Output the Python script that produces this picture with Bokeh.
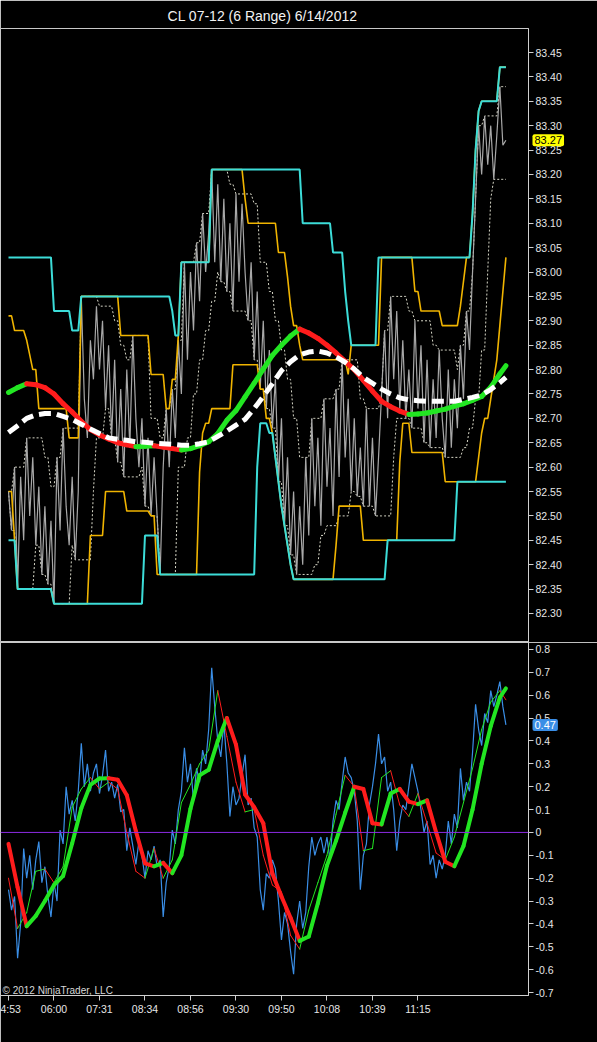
import numpy as np
from bokeh.plotting import figure
from bokeh.layouts import column
from bokeh.models import Range1d, FixedTicker, NumeralTickFormatter, Label, Span
from bokeh.embed import file_html
from bokeh.resources import INLINE

# ---------------- data ----------------
title_text = "CL 07-12 (6 Range)  6/14/2012"
copyright_text = "\u00a9 2012 NinjaTrader, LLC"

time_ticks = [0, 15, 30, 45, 60, 75, 90, 105, 120, 135]
time_labels = ["4:53", "06:00", "07:31", "08:34", "08:56", "09:30", "09:50", "10:08", "10:39", "11:15"]

price_ticks = [82.30, 82.35, 82.40, 82.45, 82.50, 82.55, 82.60, 82.65, 82.70, 82.75, 82.80, 82.85,
               82.90, 82.95, 83.00, 83.05, 83.10, 83.15, 83.20, 83.25, 83.30, 83.35, 83.40, 83.45]
osc_ticks = [-0.7, -0.6, -0.5, -0.4, -0.3, -0.2, -0.1, 0, 0.1, 0.2, 0.3, 0.4, 0.5, 0.6, 0.7, 0.8]
osc_tick_labels = ["-0.7", "-0.6", "-0.5", "-0.4", "-0.3", "-0.2", "-0.1", "0", "0.1", "0.2", "0.3",
                   "0.4", "0.5", "0.6", "0.7", "0.8"]

# close of every range bar
close = [82.55, 82.47, 82.60, 82.35, 82.58, 82.45, 82.66, 82.50, 82.62, 82.44,
         82.56, 82.38, 82.52, 82.36, 82.49, 82.32, 82.62, 82.47, 82.68, 82.52,
         82.44, 82.58, 82.41, 82.55, 82.95, 82.74, 82.66, 82.86, 82.78, 82.93,
         82.80, 82.90, 82.72, 82.85, 82.66, 82.82, 82.61, 82.76, 82.58, 82.80,
         82.64, 82.87, 82.70, 82.60, 82.70, 82.52, 82.66, 82.50, 82.62, 82.50,
         82.38, 82.60, 82.72, 82.60, 82.76, 82.66, 82.86, 82.75, 83.02, 82.82,
         83.00, 82.88, 83.06, 82.94, 83.12, 83.00, 83.08, 83.21, 83.02, 83.18,
         82.98, 83.15, 82.96, 83.10, 82.92, 83.16, 82.98, 83.14, 83.00, 82.90,
         83.02, 82.82, 82.96, 82.76, 82.90, 82.72, 82.84, 82.68, 82.78, 82.57,
         82.70, 82.48, 82.62, 82.42, 82.55, 82.38, 82.52, 82.40, 82.62, 82.46,
         82.70, 82.52, 82.66, 82.48, 82.74, 82.56, 82.68, 82.50, 82.76, 82.58,
         82.82, 82.62, 82.74, 82.55, 82.70, 82.54, 82.64, 82.52, 82.72, 82.52,
         82.66, 82.50, 82.62, 82.75, 82.88, 82.70, 82.95, 82.78, 82.92, 82.72,
         82.86, 82.70, 82.80, 82.68, 82.90, 82.72, 82.85, 82.65, 82.82, 82.64,
         82.78, 82.66, 82.84, 82.70, 82.62, 82.80, 82.64, 82.78, 82.68, 82.85,
         82.74, 82.92, 82.84, 83.00, 83.15, 83.30, 83.20, 83.32, 83.22, 83.30,
         83.19, 83.28, 83.38, 83.26, 83.27]

# channels as (first bar, level) steps
cyan_upper = [(0, 83.03), (15, 82.92), (21, 82.88), (24, 82.95), (54, 82.92), (55, 82.87), (57, 83.02),
              (67, 83.21), (97, 83.10), (107, 83.04), (111, 82.96), (112, 82.90), (113, 82.85),
              (122, 83.03), (153, 83.12), (154, 83.25), (155, 83.33), (156, 83.35), (162, 83.42)]
cyan_lower = [(0, 82.45), (3, 82.35), (15, 82.32), (45, 82.46), (50, 82.38), (82, 82.60), (83, 82.69),
              (86, 82.67), (88, 82.62), (89, 82.57), (90, 82.52), (91, 82.48), (92, 82.44), (93, 82.40),
              (94, 82.37), (125, 82.45), (148, 82.57)]
orange_upper = [(0, 82.91), (2, 82.88), (6, 82.86), (7, 82.83), (8, 82.80), (10, 82.72), (20, 82.66),
                (24, 82.95), (37, 82.87), (47, 82.79), (52, 82.72), (54, 82.78), (56, 82.87), (57, 83.02),
                (67, 83.21), (78, 83.15), (79, 83.10), (89, 83.04), (92, 82.99), (93, 82.93), (94, 82.89),
                (96, 82.85), (97, 82.82), (112, 82.79), (113, 82.85), (123, 83.03), (134, 82.96),
                (136, 82.92), (143, 82.89), (149, 82.93), (150, 82.98), (151, 83.03), (153, 83.12),
                (154, 83.25), (155, 83.33), (156, 83.35), (162, 83.42)]
orange_lower = [(0, 82.55), (2, 82.45), (3, 82.35), (15, 82.32), (27, 82.46), (32, 82.55), (39, 82.51),
                (47, 82.50), (49, 82.38), (63, 82.59), (64, 82.67), (65, 82.69), (67, 82.72), (74, 82.81),
                (83, 82.76), (85, 82.70), (87, 82.67), (88, 82.62), (89, 82.57), (90, 82.52), (91, 82.48),
                (92, 82.44), (93, 82.40), (94, 82.37), (108, 82.44), (109, 82.52), (117, 82.45),
                (129, 82.61), (130, 82.69), (133, 82.63), (144, 82.57), (155, 82.62), (156, 82.67),
                (157, 82.70), (159, 82.74), (160, 82.78), (161, 82.82), (162, 82.89), (163, 82.96),
                (164, 83.03)]

# smoothed series, one value every third bar (+ last bar)
hma_price = [82.753, 82.763, 82.771, 82.769, 82.763, 82.750, 82.730, 82.713, 82.694, 82.677,
             82.666, 82.658, 82.650, 82.646, 82.642, 82.643, 82.644, 82.641, 82.638, 82.635,
             82.638, 82.644, 82.652, 82.669, 82.696, 82.716, 82.744, 82.772, 82.801, 82.829,
             82.850, 82.869, 82.883, 82.875, 82.864, 82.850, 82.834, 82.817, 82.800, 82.778,
             82.756, 82.735, 82.724, 82.715, 82.708, 82.709, 82.711, 82.715, 82.719, 82.725,
             82.730, 82.737, 82.745, 82.764, 82.791, 82.808]
ma_price = [82.671, 82.685, 82.700, 82.707, 82.710, 82.710, 82.704, 82.698, 82.688, 82.678,
            82.669, 82.660, 82.657, 82.655, 82.652, 82.651, 82.649, 82.648, 82.647, 82.645,
            82.645, 82.648, 82.652, 82.663, 82.674, 82.686, 82.698, 82.720, 82.745, 82.771,
            82.798, 82.816, 82.830, 82.836, 82.838, 82.834, 82.826, 82.815, 82.801, 82.784,
            82.772, 82.760, 82.750, 82.742, 82.738, 82.736, 82.735, 82.735, 82.735, 82.735,
            82.739, 82.743, 82.748, 82.759, 82.773, 82.784]

osc_raw = [-0.25, -0.34, -0.28, -0.55, -0.40, -0.07, -0.20, -0.10, -0.25, -0.12,
           -0.04, -0.22, -0.15, -0.28, -0.37, -0.22, -0.30, 0.01, -0.05, 0.20,
           0.08, 0.14, 0.05, 0.18, 0.39, 0.20, 0.30, 0.18, 0.26, 0.30,
           0.17, 0.25, 0.36, 0.18, 0.22, 0.15, 0.21, 0.09, 0.10, -0.08,
           0.02, -0.06, -0.14, -0.04, -0.10, -0.20, -0.08, -0.12, -0.06, -0.15,
           -0.12, -0.37, -0.22, -0.15, 0.01, -0.05, 0.10, 0.18, 0.37, 0.22,
           0.30, 0.14, 0.28, 0.22, 0.36, 0.30, 0.45, 0.72, 0.55, 0.40,
           0.33, 0.48, 0.30, 0.07, 0.20, 0.12, 0.15, 0.25, 0.34, 0.12,
           0.15, 0.02, -0.02, -0.25, -0.34, -0.18, -0.20, -0.12, -0.16, -0.30,
           -0.47, -0.35, -0.40, -0.52, -0.62, -0.40, -0.30, -0.42, -0.35, -0.15,
           -0.02, -0.10, -0.05, -0.02, -0.09, -0.02, -0.12, 0.05, 0.14, 0.10,
           0.22, 0.33, 0.26, 0.24, 0.18, 0.05, -0.25, -0.10, -0.05, 0.12,
           0.20, 0.30, 0.43, 0.30, 0.33, 0.18, 0.22, 0.10, -0.08, 0.05,
           0.12, 0.10, 0.20, 0.30, 0.24, 0.18, 0.10, 0.00, 0.05, -0.14,
           -0.10, -0.20, -0.12, -0.16, -0.10, 0.05, -0.05, 0.08, 0.02, 0.28,
           0.14, 0.22, 0.18, 0.35, 0.56, 0.45, 0.38, 0.52, 0.48, 0.62,
           0.55, 0.60, 0.66, 0.55, 0.47]
osc_signal = [-0.20, -0.42, -0.35, -0.17, -0.16, -0.22, -0.15, 0.11, 0.19, 0.24,
              0.19, 0.22, 0.19, 0.00, -0.17, -0.20, -0.07, -0.20, -0.12, 0.13,
              0.21, 0.30, 0.36, 0.62, 0.42, 0.22, 0.09, 0.10, -0.10, -0.23,
              -0.26, -0.45, -0.51, -0.34, -0.22, -0.10, 0.08, 0.25, 0.20, -0.08,
              -0.07, 0.24, 0.27, 0.12, 0.07, 0.17, 0.04, -0.09, -0.12, -0.02,
              0.13, 0.28, 0.45, 0.57, 0.62, 0.58]
osc_smooth = [-0.05, -0.24, -0.41, -0.365, -0.30, -0.23, -0.19, -0.047, 0.106, 0.208,
              0.236, 0.237, 0.23, 0.163, 0.005, -0.135, -0.148, -0.133, -0.178, -0.10,
              0.104, 0.25, 0.274, 0.40, 0.50, 0.384, 0.166, 0.11, 0.04, -0.18,
              -0.28, -0.373, -0.474, -0.455, -0.31, -0.145, -0.036, 0.086, 0.20, 0.19,
              0.04, 0.035, 0.17, 0.19, 0.135, 0.124, 0.14, 0.0, -0.128, -0.148,
              -0.06, 0.10, 0.30, 0.465, 0.59, 0.63]

last_price = 83.27
last_osc = 0.47

# ---------------- helpers ----------------
n_bars = len(close)
bars = np.arange(n_bars)
smooth_bars = list(range(0, n_bars - 2, 3)) + [n_bars - 1]


def px_to_bar(px):
    return (px - 8) / 3.033


def expand(steps):
    out = np.empty(n_bars)
    for i, (b, v) in enumerate(steps):
        end = steps[i + 1][0] if i + 1 < len(steps) else n_bars
        out[b:end] = v
    return out


def slope_segments(p, xs, ys, width, up="#22e622", down="#ff1c1c"):
    xs = list(xs)
    ys = list(ys)
    colors = [up if ys[i + 1] >= ys[i] else down for i in range(len(ys) - 1)]
    p.segment(x0=xs[:-1], y0=ys[:-1], x1=xs[1:], y1=ys[1:], line_color=colors,
              line_width=width, line_cap="round")


def style_axis(ax, size="10.5px"):
    ax.axis_line_color = "#d0d0d0"
    ax.major_tick_line_color = "#d0d0d0"
    ax.major_tick_out = 5
    ax.major_tick_in = 0
    ax.minor_tick_line_color = None
    ax.major_label_text_color = "#e6e6e6"
    ax.major_label_text_font = "Liberation Sans"
    ax.major_label_text_font_size = size
    ax.major_label_standoff = 2


def value_marker(p, value, text, fill, text_color):
    # last-value marker drawn in the axis panel (outside the clipped frame)
    lab = Label(x=px_to_bar(532), y=value, text=text, text_color=text_color,
                text_font="Liberation Sans", text_font_size="11px", text_baseline="middle",
                background_fill_color=fill, background_fill_alpha=1,
                padding=2, border_radius=2)
    p.add_layout(lab, "right")


x_range = Range1d(px_to_bar(0), px_to_bar(528))

# ---------------- price panel ----------------
p1 = figure(width=597, height=642, x_range=x_range, y_range=Range1d(82.2405, 83.4992),
            x_axis_location=None, y_axis_location="right", toolbar_location=None,
            output_backend="svg", title=title_text,
            min_border_left=0, min_border_right=69, min_border_top=28, min_border_bottom=0,
            background_fill_color="black", border_fill_color="black",
            outline_line_color="#c8c8c8")
p1.title.align = "center"
p1.title.text_color = "#f2f2f2"
p1.title.text_font = "Liberation Sans"
p1.title.text_font_size = "14px"
p1.title.text_font_style = "normal"
p1.grid.visible = False
ax1 = p1.yaxis[0]
ax1.ticker = FixedTicker(ticks=price_ticks, minor_ticks=[])
ax1.formatter = NumeralTickFormatter(format="0.00")
style_axis(ax1)

c = np.array(close)
dot_hi = np.array([c[max(0, i - 5):i + 1].max() for i in range(n_bars)])
dot_lo = np.array([c[max(0, i - 5):i + 1].min() for i in range(n_bars)])

p1.line(bars, dot_hi, line_color="#d8d8c8", line_width=1, line_dash="2 2")
p1.line(bars, dot_lo, line_color="#d8d8c8", line_width=1, line_dash="2 2")
p1.line(bars, close, line_color="#a8a8a8", line_width=1.2)
p1.line(bars, expand(orange_upper), line_color="#f0b400", line_width=1.6)
p1.line(bars, expand(orange_lower), line_color="#f0b400", line_width=1.6)
p1.line(bars, expand(cyan_upper), line_color="#3cdcd8", line_width=2)
p1.line(bars, expand(cyan_lower), line_color="#3cdcd8", line_width=2)
slope_segments(p1, smooth_bars, hma_price, 5)
p1.line(smooth_bars, ma_price, line_color="white", line_width=5, line_dash="12 6")
value_marker(p1, last_price, f"{last_price:.2f}", "#ffff00", "black")

# ---------------- oscillator panel ----------------
p2 = figure(width=597, height=400, x_range=x_range, y_range=Range1d(-0.7131, 0.8306),
            y_axis_location="right", toolbar_location=None, output_backend="svg",
            min_border_left=0, min_border_right=69, min_border_top=0, min_border_bottom=47,
            background_fill_color="black", border_fill_color="black",
            outline_line_color="#c8c8c8")
p2.grid.visible = False
ax2 = p2.yaxis[0]
ax2.ticker = FixedTicker(ticks=osc_ticks, minor_ticks=[])
ax2.major_label_overrides = dict(zip(osc_ticks, osc_tick_labels))
style_axis(ax2)
ax3 = p2.xaxis[0]
ax3.ticker = FixedTicker(ticks=time_ticks, minor_ticks=[])
ax3.major_label_overrides = dict(zip(time_ticks, time_labels))
style_axis(ax3)

p2.add_layout(Span(location=0, dimension="width", line_color="#8c2be2", line_width=1))
p2.line(bars, osc_raw, line_color="#3a8ee6", line_width=1.2)
slope_segments(p2, smooth_bars, osc_signal, 1)
slope_segments(p2, smooth_bars, osc_smooth, 4)
value_marker(p2, last_osc, f"{last_osc:.2f}", "#3a8ee6", "white")
p2.add_layout(Label(x=px_to_bar(2), y=-0.691, text=copyright_text, text_color="#d8d8d8",
                    text_font="Liberation Sans", text_font_size="10px", text_baseline="middle"))

layout = column(p1, p2)
open("out.html", "w").write(file_html(layout, INLINE))
